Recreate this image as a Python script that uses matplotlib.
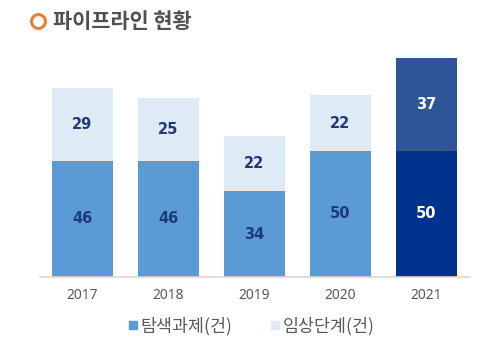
import matplotlib
matplotlib.use("Agg")
import matplotlib.pyplot as plt
from matplotlib.lines import Line2D

plt.rcParams['font.family'] = ['Noto Sans CJK KR', 'DejaVu Sans']

years = ['2017', '2018', '2019', '2020', '2021']
explore = [46, 46, 34, 50, 50]
clinical = [29, 25, 22, 22, 37]
series_names = ['탐색과제(건)', '임상단계(건)']
title = '파이프라인 현황'

c_base = '#5B9BD5'
c_top = '#DEEAF6'
c_base_hl = '#00338D'
c_top_hl = '#2F5597'

fig = plt.figure(figsize=(5, 3.49), dpi=100)
ax = fig.add_axes([0.08, 1 - 277/349, 0.86, (277-50)/349])

x = list(range(len(years)))
w = 0.71
base_colors = [c_base]*4 + [c_base_hl]
top_colors = [c_top]*4 + [c_top_hl]
ax.bar(x, explore, w, color=base_colors, zorder=2)
ax.bar(x, clinical, w, bottom=explore, color=top_colors, zorder=2)

numfont = ['DejaVu Sans']
for i in range(len(years)):
    tc = 'white' if i == 4 else '#1F3A7A'
    ax.text(x[i], explore[i]/2, str(explore[i]), ha='center', va='center',
            fontsize=10.5, fontweight='bold', color=tc, family=numfont)
    ax.text(x[i], explore[i] + clinical[i]/2, str(clinical[i]), ha='center', va='center',
            fontsize=10.5, fontweight='bold', color=tc, family=numfont)

ax.set_xlim(-0.49, 4.51)
ax.set_ylim(0, 90)
for s in ['top', 'right', 'left']:
    ax.spines[s].set_visible(False)
ax.spines['bottom'].set_color('#D9D9D9')
ax.spines['bottom'].set_linewidth(1.2)
ax.set_yticks([])
ax.set_xticks(x)
ax.set_xticklabels(years, fontsize=10, color='#595959', family=['Noto Sans', 'DejaVu Sans'])
ax.tick_params(axis='x', length=0, pad=8)

# legend
handles = [Line2D([], [], marker='s', linestyle='', color=c_base, markersize=5.5),
           Line2D([], [], marker='s', linestyle='', color=c_top, markersize=5.5)]
fig.legend(handles, series_names, loc='center', bbox_to_anchor=(0.5, 1 - 326/349),
           ncol=2, frameon=False, fontsize=12.5, handletextpad=0.0, handlelength=0.9,
           columnspacing=2.0, labelcolor='#595959')

# title
fig.add_artist(Line2D([38/500], [1 - 21/349], transform=fig.transFigure, marker='o',
                      markersize=10, markerfacecolor='none', markeredgecolor='#ED7D31',
                      markeredgewidth=2.2, linestyle=''))
fig.text(53/500, 1 - 21/349, title, fontsize=15, fontweight='bold', color='#505050',
         va='center', ha='left')

fig.savefig('out.png', dpi=100)
